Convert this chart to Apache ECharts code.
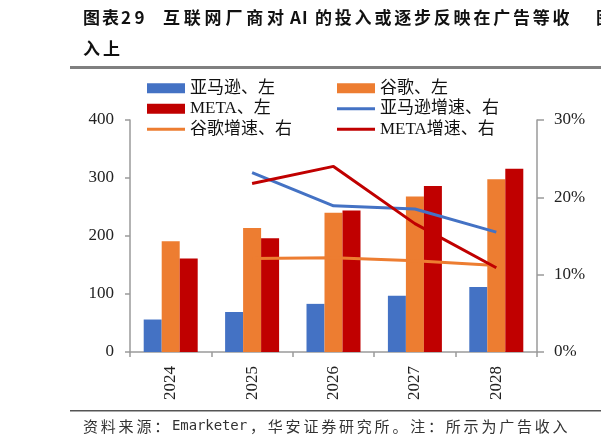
<!DOCTYPE html>
<html>
<head>
<meta charset="utf-8">
<script src="https://cdn.jsdelivr.net/npm/echarts@6/dist/echarts.min.js"></script>
<style>
  html, body { margin: 0; padding: 0; background: #fff; }
  #chart { width: 601px; height: 446px; }
</style>
</head>
<body>
<div id="chart"></div>
<script>
const years = ['2024', '2025', '2026', '2027', '2028'];
const amazon = [56, 69, 83, 97, 112];
const google = [191, 214, 240, 268, 298];
const meta = [161, 196, 244, 286, 316];
const amazonGrowth = [null, 0.232, 0.189, 0.185, 0.155];
const googleGrowth = [null, 0.121, 0.122, 0.118, 0.112];
const metaGrowth = [null, 0.218, 0.240, 0.166, 0.109];
const leftTicks = { min: 0, max: 400, interval: 100 };
const rightTicks = { min: 0, max: 0.3, interval: 0.1 };

const BLUE = '#4472C4';
const ORANGE = '#ED7D31';
const RED = '#C00000';
const AXIS = '#9a9a9a';
const SERIF = '"Liberation Serif", "Noto Sans CJK SC", serif';
const CJK = '"Noto Sans CJK SC", sans-serif';
// thin line icon; the bare M points keep the box 38x10 so it is not stretched
const LINE_ICON = 'path://M0,0M38,10M0,3.5L38,3.5L38,6.5L0,6.5Z';

// lay characters out one by one, the source text is spaced wider than the font
function spaced(str, x0, step, y, style) {
  return [...str].map((ch, i) => ({
    type: 'text',
    left: x0 + i * step,
    top: y - 9,
    silent: true,
    style: Object.assign({ text: ch, fill: '#111' }, style),
  }));
}

const titleFont = { font: 'bold 17px ' + CJK };
const footFont = { font: '15px ' + CJK, fill: '#333' };
const monoFont = { font: '14px "DejaVu Sans Mono", monospace', fill: '#333' };

const graphics = [].concat(
  spaced('图表', 83, 19, 18, titleFont),
  spaced('29', 121, 13.5, 18, titleFont),
  spaced('互联网厂商对', 163, 20.8, 18, titleFont),
  spaced('AI', 290, 12, 18, titleFont),
  spaced('的投入或逐步反映在广告等收', 315, 19.8, 18, titleFont),
  spaced('图', 596, 20, 18, titleFont),
  spaced('入上', 83, 20, 49, titleFont),
  spaced('资料来源：', 83, 17.8, 428, footFont),
  spaced('Emarketer', 172, 8.33, 428, monoFont),
  spaced('，华安证券研究所。注：所示为广告收入', 250, 17.8, 428, footFont),
  [
    { type: 'rect', shape: { x: 70, y: 66, width: 531, height: 3 }, style: { fill: '#808080' }, silent: true },
    { type: 'rect', shape: { x: 70, y: 410, width: 531, height: 1.5 }, style: { fill: '#555' }, silent: true },
  ]
);

const chart = echarts.init(document.getElementById('chart'));

const legendCommon = {
  orient: 'vertical',
  itemWidth: 38,
  itemHeight: 10,
  itemGap: 0,
  top: 73,
  textStyle: { fontFamily: SERIF, fontSize: 17, color: '#111', lineHeight: 20.5 },
};

chart.setOption({
  animation: false,
  backgroundColor: '#fff',
  graphic: graphics,
  legend: [
    Object.assign({
      left: 142,
      data: [
        { name: '亚马逊、左', icon: 'rect' },
        { name: 'META、左', icon: 'rect' },
        { name: '谷歌增速、右', icon: LINE_ICON },
      ],
    }, legendCommon),
    Object.assign({
      left: 332,
      data: [
        { name: '谷歌、左', icon: 'rect' },
        { name: '亚马逊增速、右', icon: LINE_ICON },
        { name: 'META增速、右', icon: LINE_ICON },
      ],
    }, legendCommon),
  ],
  grid: { left: 130, right: 64, top: 120, bottom: 94 },
  xAxis: {
    type: 'category',
    data: years,
    axisLine: { lineStyle: { color: AXIS, width: 1.5 } },
    axisTick: { show: true, length: 5, lineStyle: { color: AXIS, width: 1.5 } },
    axisLabel: { rotate: 90, margin: 14, fontFamily: SERIF, fontSize: 17, color: '#222' },
  },
  yAxis: [
    {
      type: 'value',
      min: leftTicks.min, max: leftTicks.max, interval: leftTicks.interval,
      splitLine: { show: false },
      axisLine: { show: true, lineStyle: { color: AXIS, width: 1.5 } },
      axisTick: { show: true, length: 5, lineStyle: { color: AXIS, width: 1.5 } },
      axisLabel: { margin: 16, fontFamily: SERIF, fontSize: 17, color: '#222' },
    },
    {
      type: 'value',
      position: 'right',
      min: rightTicks.min, max: rightTicks.max, interval: rightTicks.interval,
      splitLine: { show: false },
      axisLine: { show: true, lineStyle: { color: AXIS, width: 1.5 } },
      axisTick: { show: true, length: 7, lineStyle: { color: AXIS, width: 1.5 } },
      axisLabel: {
        margin: 17, fontFamily: SERIF, fontSize: 17, color: '#222',
        formatter: (v) => Math.round(v * 100) + '%',
      },
    },
  ],
  series: [
    { name: '亚马逊、左', type: 'bar', data: amazon, barWidth: 18, barGap: '0%', itemStyle: { color: BLUE } },
    { name: '谷歌、左', type: 'bar', data: google, barWidth: 18, barGap: '0%', itemStyle: { color: ORANGE } },
    { name: 'META、左', type: 'bar', data: meta, barWidth: 18, barGap: '0%', itemStyle: { color: RED } },
    {
      name: '亚马逊增速、右', type: 'line', yAxisIndex: 1, data: amazonGrowth,
      symbol: 'none', lineStyle: { color: BLUE, width: 3 }, itemStyle: { color: BLUE },
    },
    {
      name: '谷歌增速、右', type: 'line', yAxisIndex: 1, data: googleGrowth,
      symbol: 'none', lineStyle: { color: ORANGE, width: 3 }, itemStyle: { color: ORANGE },
    },
    {
      name: 'META增速、右', type: 'line', yAxisIndex: 1, data: metaGrowth,
      symbol: 'none', lineStyle: { color: RED, width: 3 }, itemStyle: { color: RED },
    },
  ],
});
</script>
</body>
</html>
